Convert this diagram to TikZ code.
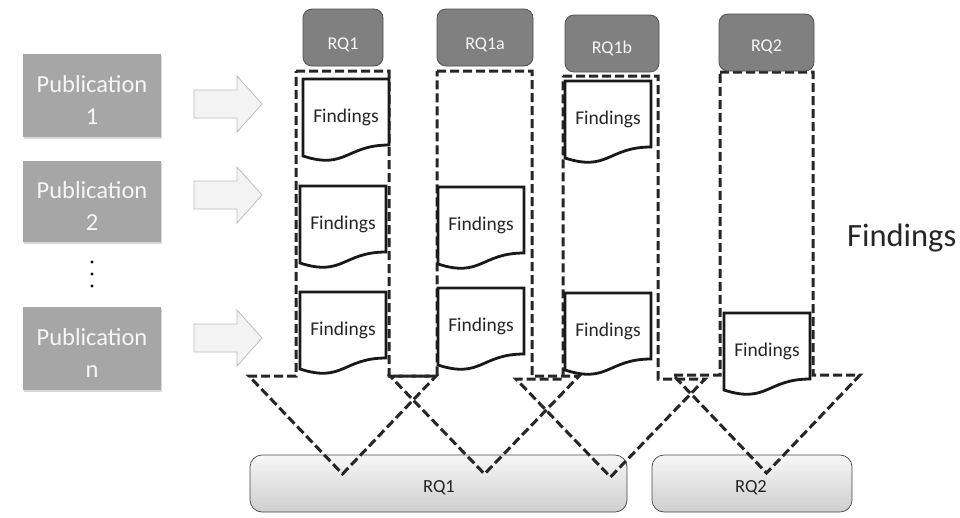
\documentclass[tikz,border=0pt]{standalone}
\usepackage{fontspec}
\setmainfont{Carlito}
\usetikzlibrary{shadows}

\definecolor{pubfill}{RGB}{166,166,166}
\definecolor{pubtext}{RGB}{246,246,246}
\definecolor{rqfill}{RGB}{128,128,128}
\definecolor{rqedge}{RGB}{80,80,80}
\definecolor{arrfill}{RGB}{243,243,243}
\definecolor{arredge}{RGB}{190,190,190}
\definecolor{boxtop}{RGB}{247,247,247}
\definecolor{boxbot}{RGB}{206,206,206}
\definecolor{boxedge}{RGB}{70,70,70}
\definecolor{inktext}{RGB}{38,38,38}

\tikzset{
  pubbox/.style={fill=pubfill, draw=none, minimum width=138pt, inner sep=0pt,
    drop shadow={opacity=0.3, shadow xshift=1pt, shadow yshift=-2pt}},
  pubtxt/.style={text=pubtext, font=\fontsize{24.5}{31.5}\selectfont, align=center, inner sep=0pt},
  rqbox/.style={fill=rqfill, draw=rqedge, line width=0.8pt, rounded corners=9pt, inner sep=0pt},
  rqtxt/.style={text=pubtext, font=\fontsize{18}{20}\selectfont, anchor=base, inner sep=0pt},
  botbox/.style={draw=boxedge, line width=0.7pt, rounded corners=12pt, top color=boxtop,
    bottom color=boxbot, minimum height=57pt, inner sep=0pt},
  bottxt/.style={text=inktext, font=\fontsize{18.5}{20}\selectfont, anchor=base, inner sep=0pt},
  colline/.style={draw=black!85, line width=3pt, dash pattern=on 9pt off 4pt, line join=miter},
  docline/.style={draw=black!90, line width=2.8pt, fill=white, line join=miter},
  doctxt/.style={text=inktext, font=\fontsize{19.5}{22}\selectfont, anchor=base, inner sep=0pt},
  blockarr/.style={fill=arrfill, draw=arredge, line width=0.8pt, line join=miter},
}

% dashed down-arrow column: tip name, left x, right x, top y, bottom y of the shaft
\newcommand\rqcolumn[5]{%
  \draw[colline] (#2,#4) -- (#3,#4) -- (#3,#5) -- ({#3+47},#5)
    -- ({(#2+#3)/2},{#5+98}) -- ({#2-47},#5) -- (#2,#5) -- cycle;
  \coordinate (#1) at ({(#2+#3)/2},{#5+98});
}

% document shape with a wavy lower edge: name, left x, top y
\newcommand\findingsdoc[3]{%
  \begin{scope}[shift={(#2,#3)}]
    \draw[docline] (0,0) -- (86,0) -- (86,66) .. controls (43,66) and (43,91) .. (0,77) -- cycle;
    \node[doctxt] (#1) at (43,43) {Findings};
  \end{scope}
}

% light block arrow pointing right: y of its axis
\newcommand\pubarrow[1]{%
  \draw[blockarr] (194,{#1-14}) -- (237,{#1-14}) -- (237,{#1-28}) -- (262,#1)
    -- (237,{#1+28}) -- (237,{#1+14}) -- (194,{#1+14}) -- cycle;
}

\begin{document}
\begin{tikzpicture}[x=1pt,y=-1pt]
  \useasboundingbox (0,0) rectangle (960,517);
  \fill[white] (0,0) rectangle (960,517);

  % summary boxes at the bottom
  \node[botbox, minimum width=377pt] (sumRQ1) at (438.5,483.5) {};
  \node[botbox, minimum width=200pt] (sumRQ2) at (752,483.5) {};
  \node[bottxt] (sumRQ1txt) at (439,492) {RQ1};
  \node[bottxt] (sumRQ2txt) at (751,492) {RQ2};

  % dashed columns, one per research question
  \rqcolumn{tipA}{296}{389}{71}{376}
  \rqcolumn{tipB}{437}{532}{71}{376}
  \rqcolumn{tipC}{563}{658}{76}{379}
  \rqcolumn{tipD}{720}{813}{72}{375}

  % findings inside the columns
  \findingsdoc{fA1}{303}{79}
  \findingsdoc{fA2}{300}{186}
  \findingsdoc{fA3}{300}{292}
  \findingsdoc{fB2}{438}{187}
  \findingsdoc{fB3}{438}{288}
  \findingsdoc{fC1}{565}{81}
  \findingsdoc{fC3}{565}{293}
  \findingsdoc{fD3}{724}{313}

  % research question headers
  \node[rqbox, minimum width=80pt, minimum height=57pt] (hRQ1) at (343,37.5) {};
  \node[rqbox, minimum width=96pt, minimum height=57pt] (hRQ1a) at (485,37.5) {};
  \node[rqbox, minimum width=94pt, minimum height=57pt] (hRQ1b) at (612,43.5) {};
  \node[rqbox, minimum width=95pt, minimum height=57pt] (hRQ2) at (766.5,42.5) {};
  \node[rqtxt] (hRQ1txt) at (343,49.5) {RQ1};
  \node[rqtxt] (hRQ1atxt) at (485,49.5) {RQ1a};
  \node[rqtxt] (hRQ1btxt) at (612,53.5) {RQ1b};
  \node[rqtxt] (hRQ2txt) at (766.5,51.5) {RQ2};

  % publications on the left
  \node[pubbox, minimum height=83pt] (pub1) at (92,95.5) {};
  \node[pubbox, minimum height=81pt] (pub2) at (92,201.5) {};
  \node[pubbox, minimum height=83pt] (pubn) at (92,348.5) {};
  \node[pubtxt] (pub1txt) at (92,100) {Publication\\1};
  \node[pubtxt] (pub2txt) at (92,206) {Publication\\2};
  \node[pubtxt] (pubntxt) at (92,353) {Publication\\n};

  % vertical ellipsis between the publications
  \foreach \yy in {262,274,286} \fill[black] (92,\yy) circle (1.6pt);

  % arrows from publications towards the columns
  \pubarrow{104}
  \pubarrow{195}
  \pubarrow{338}

  % legend text
  \node[font=\fontsize{32.5}{36}\selectfont, text=inktext, anchor=base west, inner sep=0pt]
    (legend) at (847,246.5) {Findings};
\end{tikzpicture}
\end{document}
